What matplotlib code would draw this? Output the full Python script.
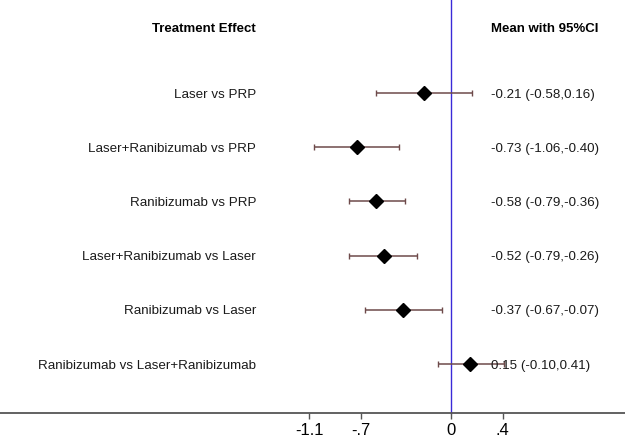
import matplotlib.pyplot as plt
import numpy as np

plt.rcParams['font.family'] = ['Liberation Sans', 'DejaVu Sans']

# data
comparisons = ['Laser vs PRP', 'Laser+Ranibizumab vs PRP', 'Ranibizumab vs PRP',
               'Laser+Ranibizumab vs Laser', 'Ranibizumab vs Laser',
               'Ranibizumab vs Laser+Ranibizumab']
means = [-0.21, -0.73, -0.58, -0.52, -0.37, 0.15]
lower = [-0.58, -1.06, -0.79, -0.79, -0.67, -0.10]
upper = [0.16, -0.40, -0.36, -0.26, -0.07, 0.41]
tick_vals = [-1.1, -0.7, 0, 0.4]
tick_labels = ['-1.1', '-.7', '0', '.4']

fig = plt.figure(figsize=(6.25, 4.41), dpi=100)
ax = fig.add_axes([0, 0, 1, 1])

px = 1 / 129.0  # one pixel in data units (x)
ax.set_xlim(-451 * px, 174 * px)
row_h = 54.2
ax.set_ylim(6.42, -1.716)

ypos = np.arange(len(comparisons))
means = np.array(means)
lower = np.array(lower)
upper = np.array(upper)

ax.errorbar(means, ypos, xerr=[means - lower, upper - means], fmt='none',
            ecolor='#6e4a4a', elinewidth=1.1, capsize=2.5, capthick=1.0, zorder=2)
ax.plot(means, ypos, 'D', color='black', markersize=7, zorder=3)

axis_y = 5.9
ax.plot([0, 0], [-1.716, axis_y], color='#3a2ad8', lw=1.0, zorder=1)

lab_x = -195 * px
val_x = 40 * px

# left labels
for i, lab in enumerate(comparisons):
    ax.text(lab_x, i, lab, ha='right', va='center_baseline', fontsize=9.6, color='#1a1a1a')

# right text column
for i in range(len(comparisons)):
    txt = '%.2f (%.2f,%.2f)' % (means[i], lower[i], upper[i])
    ax.text(val_x, i, txt, ha='left', va='center_baseline', fontsize=9.6,
            color='#1a1a1a', zorder=4)

hy = (27 - 93) / row_h
ax.text(lab_x, hy, 'Treatment Effect', ha='right', va='center_baseline',
        fontsize=9.5, fontweight='bold')
ax.text(val_x, hy, 'Mean with 95%CI', ha='left', va='center_baseline',
        fontsize=9.5, fontweight='bold')

# axis
for s in ['left', 'right', 'top']:
    ax.spines[s].set_visible(False)
ax.spines['bottom'].set_position(('data', axis_y))
ax.spines['bottom'].set_color('#555555')
ax.spines['bottom'].set_linewidth(1.3)
ax.set_yticks([])
ax.set_xticks(tick_vals)
ax.set_xticklabels(tick_labels, fontsize=12)
ax.tick_params(axis='x', direction='out', length=4, width=1, color='#555555', pad=3)
ax.patch.set_alpha(0)

fig.savefig('out.png', dpi=100)
